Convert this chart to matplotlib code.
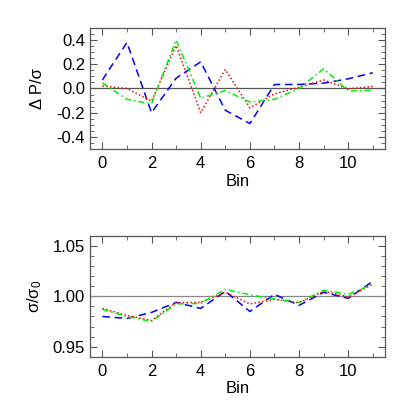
import numpy as np
import matplotlib
matplotlib.use("Agg")
import matplotlib.pyplot as plt
from matplotlib.ticker import MultipleLocator

plt.rcParams['font.family'] = ['Liberation Sans', 'DejaVu Sans']
plt.rcParams['mathtext.fontset'] = 'custom'
plt.rcParams['mathtext.rm'] = 'Liberation Sans'
plt.rcParams['mathtext.it'] = 'Liberation Sans'

bins = list(range(12))

dp_blue = [0.07, 0.38, -0.20, 0.085, 0.22, -0.18, -0.29, 0.033, 0.033, 0.044, 0.08, 0.13]
dp_red = [0.02, 0.00, -0.105, 0.355, -0.20, 0.157, -0.16, -0.044, 0.01, 0.07, -0.003, 0.017]
dp_green = [0.046, -0.09, -0.127, 0.40, -0.08, -0.017, -0.113, -0.09, 0.0, 0.162, -0.02, -0.015]

s_blue = [0.980, 0.978, 0.984, 0.994, 0.988, 1.005, 0.985, 1.002, 0.991, 1.004, 0.998, 1.015]
s_red = [0.988, 0.981, 0.976, 0.994, 0.994, 1.004, 0.9925, 0.997, 0.9935, 1.005, 0.9995, 1.012]
s_green = [0.987, 0.980, 0.975, 0.9925, 0.993, 1.007, 1.0015, 0.9975, 0.994, 1.006, 1.002, 1.012]

fig = plt.figure(figsize=(4.15, 4.15), dpi=100)
ax1 = fig.add_axes([0.217, 0.641, 0.711, 0.2916])
ax2 = fig.add_axes([0.217, 0.1405, 0.711, 0.2908])

fs = 12
for ax in (ax1, ax2):
    ax.set_xlim(-0.5, 11.5)
    ax.xaxis.set_major_locator(MultipleLocator(2))
    ax.xaxis.set_minor_locator(MultipleLocator(1))
    ax.tick_params(which='both', direction='in', top=True, right=True,
                   labelsize=fs, color='#555555')
    ax.tick_params(which='major', length=5)
    ax.tick_params(which='minor', length=3)
    ax.tick_params(axis='x', pad=5)
    for s in ax.spines.values():
        s.set_color('#555555')
        s.set_linewidth(0.9)
    ax.set_xlabel('Bin', fontsize=fs, labelpad=2)

ax1.axhline(0.0, color='#555555', lw=0.9)
ax1.plot(bins, dp_blue, color='#0000ff', ls=(0, (5, 3)), lw=1.1)
ax1.plot(bins, dp_red, color='#ff0000', ls=(0, (1, 1.5)), lw=1.1)
ax1.plot(bins, dp_green, color='#00ee00', ls=(0, (4, 2, 1, 2)), lw=1.1)
ax1.set_ylim(-0.5, 0.5)
ax1.yaxis.set_major_locator(MultipleLocator(0.2))
ax1.yaxis.set_minor_locator(MultipleLocator(0.05))
ax1.set_yticks([-0.4, -0.2, 0.0, 0.2, 0.4])
ax1.set_yticklabels(['-0.4', '-0.2', '0.0', '0.2', '0.4'])
ax1.set_ylabel('Δ P/σ', fontsize=fs, labelpad=8)

ax2.axhline(1.0, color='#888888', lw=0.9)
ax2.plot(bins, s_blue, color='#0000ff', ls=(0, (5, 3)), lw=1.1)
ax2.plot(bins, s_red, color='#ff0000', ls=(0, (1, 1.5)), lw=1.1)
ax2.plot(bins, s_green, color='#00ee00', ls=(0, (4, 2, 1, 2)), lw=1.1)
ax2.set_ylim(0.94, 1.06)
ax2.yaxis.set_major_locator(MultipleLocator(0.05))
ax2.yaxis.set_minor_locator(MultipleLocator(0.01))
ax2.set_yticks([0.95, 1.00, 1.05])
ax2.set_yticklabels(['0.95', '1.00', '1.05'])
ax2.set_ylabel(r'$\sigma/\sigma_0$', fontsize=fs, labelpad=6)

fig.savefig('out.png', dpi=100)
